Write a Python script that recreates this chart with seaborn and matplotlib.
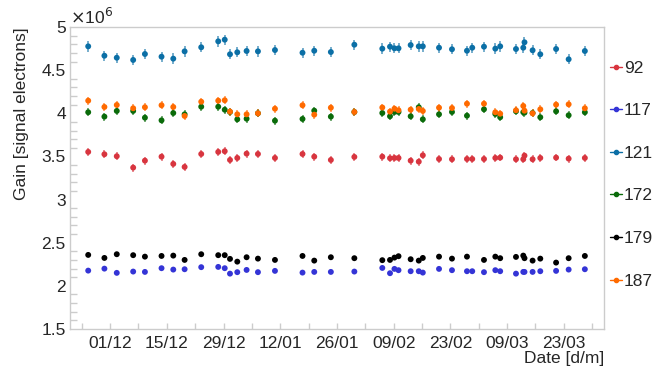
import numpy as np
import pandas as pd
import matplotlib
matplotlib.use("Agg")
import matplotlib.pyplot as plt
import matplotlib.dates as mdates
from matplotlib.lines import Line2D
import seaborn as sns

nan = np.nan

# measurement times, days since 01/12/2014
days = [-5.4, -1.4, 1.65, 5.7, 8.6, 12.7, 15.6, 18.4, 22.5, 26.7, 28.3, 29.6, 31.4,
        33.7, 36.5, 40.7, 47.5, 50.4, 54.5, 60.3, 67.2, 69.1, 70.2, 71.2, 74.2, 76.2,
        77.2, 81.2, 84.4, 88.1, 89.4, 92.3, 95.1, 96.3, 100.2, 102.0, 102.3, 104.3,
        106.2, 110.1, 113.2, 117.2]

# gain in units of 1e6 signal electrons
gain_92 = [3.552, 3.525, 3.502, 3.370, 3.451, 3.497, 3.413, 3.378, 3.528, 3.552, 3.560,
           3.459, 3.482, 3.532, 3.528, 3.482, 3.528, 3.497, 3.459, 3.494,
           3.497, 3.479, 3.482, 3.482, 3.451, 3.439, 3.513, 3.470, 3.467, 3.470, 3.470,
           3.470, 3.482, 3.486, 3.467, 3.467, 3.509, 3.467, 3.482, 3.486, 3.474, 3.482]
gain_117 = [2.176, 2.199, 2.150, 2.165, 2.161, 2.204, 2.188, 2.192, 2.216, 2.219, 2.204,
            2.141, 2.158, 2.184, 2.158, 2.173, 2.153, 2.161, 2.161, 2.165,
            2.207, 2.146, 2.196, 2.181, 2.169, 2.169, 2.153, 2.196, 2.181, 2.169, 2.169,
            2.158, 2.181, 2.169, 2.141, 2.161, 2.161, 2.161, 2.169, 2.173, 2.188, 2.192]
gain_121 = [4.776, 4.667, 4.644, 4.618, 4.687, 4.656, 4.633, 4.718, 4.765, 4.834, 4.853,
            4.684, 4.707, 4.722, 4.718, 4.733, 4.702, 4.725, 4.710, 4.795,
            4.749, 4.772, 4.753, 4.753, 4.791, 4.776, 4.776, 4.760, 4.742, 4.725, 4.760,
            4.772, 4.749, 4.776, 4.745, 4.760, 4.823, 4.730, 4.684, 4.745, 4.626, 4.722]
gain_172 = [4.012, 3.961, 4.027, 4.027, 3.949, 3.918, 4.003, 3.988, 4.076, 4.076, 4.041,
            4.015, 3.930, 3.937, 4.000, 3.914, 3.934, 4.030, 3.961, 4.015,
            4.003, 3.965, 4.015, 4.015, 3.965, 4.070, 3.930, 3.988, 4.015, 3.972, nan,
            4.046, 3.992, 3.954, 4.023, 4.012, 4.007, 4.003, 3.954, 4.023, 3.977, 4.012]
gain_179 = [2.358, 2.323, 2.366, 2.355, 2.338, 2.346, 2.350, 2.300, 2.366, 2.355, 2.355,
            2.312, 2.280, 2.331, 2.315, 2.300, 2.346, 2.292, 2.331, 2.320,
            2.297, 2.300, 2.327, 2.343, 2.308, 2.292, 2.323, 2.338, 2.315, 2.338, nan,
            2.300, 2.338, 2.320, 2.335, 2.350, 2.320, 2.292, 2.315, 2.269, 2.320, 2.346]
gain_187 = [4.146, 4.073, 4.096, 4.058, 4.070, 4.093, 4.073, 3.969, 4.134, 4.146, 4.151,
            4.019, 3.988, 3.988, 4.000, 4.053, 4.093, 3.984, 4.065, 4.015,
            4.067, 4.019, 4.053, 4.035, 4.042, 4.050, 4.027, 4.065, 4.061, 4.111, nan,
            4.111, 4.012, 3.995, 4.035, 4.085, 4.030, 4.000, 4.046, 4.100, 4.104, 4.058]

channels = ["92", "117", "121", "172", "179", "187"]
errors = [0.045, 0.02, 0.06, 0.045, 0.025, 0.045]
colors = ["#d8353f", "#3434d6", "#0b6fa6", "#0a6b0a", "#000000", "#ff6a00"]

series = [gain_92, gain_117, gain_121, gain_172, gain_179, gain_187]
start = pd.Timestamp("2014-12-01")
dates = start + pd.to_timedelta(days, unit="D")

frames = []
for ch, vals, err in zip(channels, series, errors):
    frames.append(pd.DataFrame({"date": dates, "gain": vals, "err": err, "channel": ch}))
df = pd.concat(frames).dropna()

sns.set_style("white")
plt.rcParams["font.family"] = ["Liberation Sans", "DejaVu Sans"]
plt.rcParams["axes.grid"] = False
plt.rcParams["grid.alpha"] = 0.0
plt.rcParams["grid.linewidth"] = 0.0
fs = 12.5

fig = plt.figure(figsize=(6.54, 3.70), dpi=100)
ax = fig.add_axes([0.107, 0.111, 0.817, 0.816])

for ch, col in zip(channels, colors):
    d = df[df["channel"] == ch]
    ax.errorbar(d["date"], d["gain"], yerr=d["err"], fmt="none", ecolor=col,
                elinewidth=1.2, alpha=0.65, zorder=2)
sns.scatterplot(data=df, x="date", y="gain", hue="channel", palette=colors,
                hue_order=channels, s=18, linewidth=0, legend=False, ax=ax, zorder=3)

ax.set_ylim(1.5, 5.0)
ax.set_xlim(start - pd.Timedelta(days=9.9), start + pd.Timedelta(days=122))
ax.set_yticks(np.arange(1.5, 5.01, 0.5))
ax.set_yticklabels(["1.5", "2", "2.5", "3", "3.5", "4", "4.5", "5"])
ax.set_yticks(np.arange(1.5, 5.0, 0.1), minor=True)
ax.set_xticks(pd.date_range("2014-12-01", periods=9, freq="14D"))
ax.set_xticks(pd.date_range("2014-11-24", periods=10, freq="14D"), minor=True)
ax.xaxis.set_major_formatter(mdates.DateFormatter("%d/%m"))

for s in ax.spines.values():
    s.set_color("#cccccc")
    s.set_linewidth(1.0)
ax.tick_params(axis="y", which="major", direction="in", length=10, width=1.2,
               color="#dddddd", labelsize=fs, pad=3, right=False)
ax.tick_params(axis="y", which="minor", direction="in", length=5, width=1.0,
               color="#cccccc", left=True, right=False)
ax.tick_params(axis="x", which="both", direction="in", length=4, width=1.0,
               color="#cccccc", labelsize=fs, pad=5, bottom=True, top=False)

ax.set_ylabel("Gain [signal electrons]", fontsize=fs, loc="top", labelpad=9)
ax.set_xlabel("Date [d/m]", fontsize=fs, loc="right", labelpad=0)
ax.text(0.0, 1.0, r"$\times$10$^{6}$", transform=ax.transAxes, fontsize=fs,
        ha="left", va="bottom")

handles = [Line2D([0], [0], color=c, marker="o", markersize=3, lw=1) for c in colors]
fig.legend(handles, channels, loc="upper left", bbox_to_anchor=(0.922, 0.855),
           frameon=False, fontsize=fs, handlelength=0.7, handletextpad=0.1,
           labelspacing=1.58, borderaxespad=0)

ax.grid(False, which="both")

fig.savefig("out.png", dpi=100)
